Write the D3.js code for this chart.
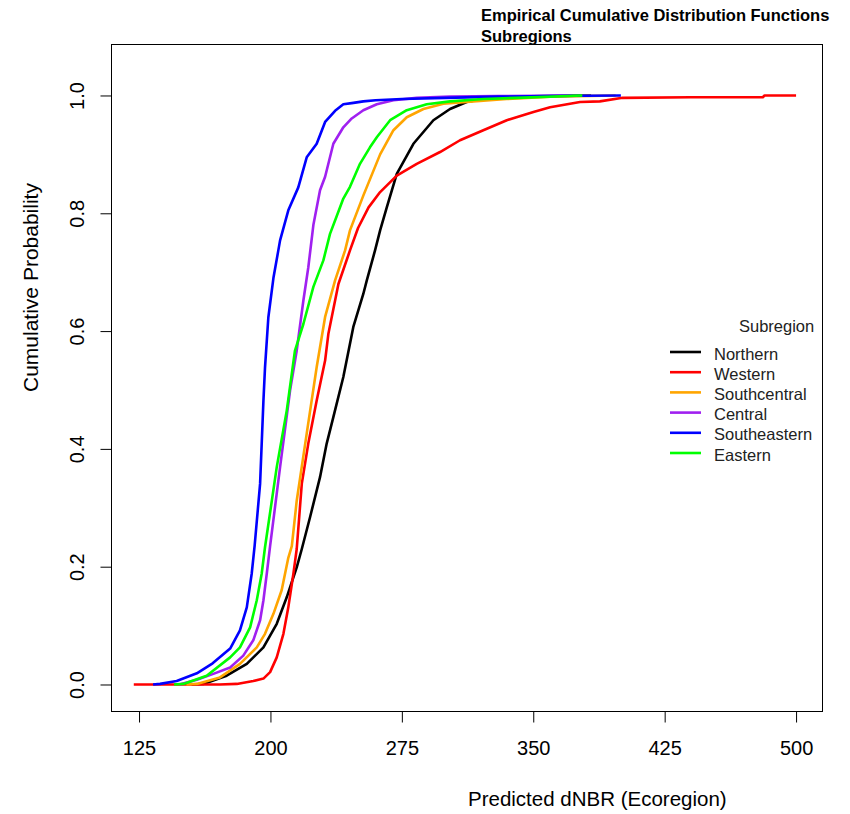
<!DOCTYPE html>
<html>
<head>
<meta charset="utf-8">
<script src="https://cdn.jsdelivr.net/npm/d3@7"></script>
<style>
  body { margin: 0; background: #fff; }
  text { font-family: "Liberation Sans", Arial, sans-serif; }
</style>
</head>
<body>
<div id="chart"></div>
<script>
// ECDF curves (x = predicted dNBR, p = cumulative probability)
var subregions = ["Northern", "Western", "Southcentral", "Central", "Southeastern", "Eastern"];
var colors = ["#000000", "#FF0000", "#FFA500", "#A020F0", "#0000FF", "#00FF00"];

var northernX = [155, 161.7, 175, 186.5, 196, 203.6, 209.3, 215, 217.9, 222.6, 228.3, 232.1, 235.9, 241.6, 247.3, 253, 255, 259.7, 262.6, 266.4, 272.1, 281.6, 293, 302.5, 312, 325.3, 340, 360, 383];
var northernP = [0, 0.001, 0.015, 0.035, 0.063, 0.103, 0.148, 0.199, 0.23, 0.284, 0.352, 0.409, 0.454, 0.522, 0.607, 0.663, 0.686, 0.737, 0.771, 0.81, 0.867, 0.918, 0.958, 0.977, 0.989, 0.996, 0.998, 0.999, 1];

var westernX = [122, 171, 180.8, 190.2, 196, 199.8, 203.6, 207.4, 210.2, 213.1, 215, 217.9, 221.6, 226.4, 231.2, 233.1, 238.8, 245.4, 250, 256, 262.6, 272.1, 283.5, 296.8, 308.2, 321.5, 334.9, 350.1, 359.6, 376.7, 388, 401, 440, 481, 482, 500];
var westernP = [0, 0, 0.001, 0.006, 0.01, 0.021, 0.046, 0.086, 0.131, 0.188, 0.23, 0.341, 0.409, 0.482, 0.55, 0.596, 0.68, 0.737, 0.775, 0.81, 0.836, 0.864, 0.884, 0.904, 0.924, 0.941, 0.958, 0.972, 0.98, 0.989, 0.99, 0.996, 0.997, 0.997, 1, 1];

var southcentralX = [152, 158, 171.2, 182.6, 192.2, 196.9, 201.7, 206.4, 210.2, 212.2, 215, 220.7, 226.4, 231.2, 236.9, 242.6, 245.4, 253, 262.6, 270.2, 277.8, 287.3, 298.7, 315.8, 334.9, 360, 397];
var southcentralP = [0, 0.001, 0.012, 0.035, 0.063, 0.086, 0.12, 0.16, 0.215, 0.235, 0.312, 0.426, 0.539, 0.624, 0.686, 0.737, 0.771, 0.83, 0.9, 0.941, 0.963, 0.977, 0.986, 0.99, 0.994, 0.998, 1];

var centralX = [148, 158, 167.4, 177, 184.5, 190.2, 194.1, 196, 197.9, 199.8, 205.5, 211.2, 215, 218.8, 221.6, 224.5, 228.3, 231.2, 235.9, 241.6, 246.4, 253, 260.7, 270.2, 283.5, 302.5, 330, 372];
var centralP = [0, 0.008, 0.018, 0.029, 0.049, 0.075, 0.109, 0.143, 0.188, 0.235, 0.369, 0.499, 0.567, 0.652, 0.708, 0.78, 0.839, 0.862, 0.918, 0.946, 0.961, 0.975, 0.985, 0.992, 0.996, 0.998, 0.999, 1];

var southeasternX = [133, 137, 146.5, 158, 167, 177, 182.6, 186.5, 189.3, 191, 194.1, 196, 196.9, 198.8, 201.7, 204.5, 205.5, 210.2, 215.9, 220.7, 226.4, 231.2, 236.9, 241.6, 246.4, 253, 260, 275, 300, 330, 360, 400];
var southeasternP = [0, 0.001, 0.006, 0.019, 0.036, 0.061, 0.092, 0.131, 0.188, 0.236, 0.341, 0.482, 0.538, 0.623, 0.69, 0.737, 0.754, 0.805, 0.844, 0.895, 0.918, 0.955, 0.974, 0.985, 0.987, 0.99, 0.992, 0.994, 0.996, 0.998, 0.999, 1];

var easternX = [145, 150.3, 163.6, 177, 182.6, 188.4, 192.2, 195, 196.9, 203.6, 209.3, 214, 218.8, 224.5, 230.2, 234, 237.8, 241.6, 245.4, 251.1, 256.8, 260.7, 268.3, 277.8, 289.2, 302.5, 321.5, 340.6, 378];
var easternP = [0, 0.001, 0.015, 0.046, 0.063, 0.097, 0.143, 0.188, 0.233, 0.369, 0.465, 0.567, 0.612, 0.675, 0.72, 0.765, 0.795, 0.825, 0.845, 0.884, 0.912, 0.929, 0.958, 0.975, 0.985, 0.99, 0.994, 0.996, 1];

var xTicks = [125, 200, 275, 350, 425, 500];
var yTicks = [0, 0.2, 0.4, 0.6, 0.8, 1.0];

var seriesX = [northernX, westernX, southcentralX, centralX, southeasternX, easternX];
var seriesP = [northernP, westernP, southcentralP, centralP, southeasternP, easternP];

var width = 850,
    height = 814;
// plot box (don't call these top/left: window.top is read only)
var boxLeft = 111, boxRight = 822, boxTop = 44, boxBottom = 711;

var svg = d3.select("#chart")
    .append("svg")
    .attr("width", width)
    .attr("height", height);

var x = d3.scaleLinear().domain([109, 514.8]).range([boxLeft, boxRight]);
var y = d3.scaleLinear().domain([-0.045, 1.0874]).range([boxBottom, boxTop]);

var line = d3.line()
    .x(function (d) { return x(d[0]); })
    .y(function (d) { return y(d[1]); });

// curves
svg.append("g")
    .selectAll("path")
    .data(subregions)
    .enter()
    .append("path")
    .attr("fill", "none")
    .attr("stroke", function (d, i) { return colors[i]; })
    .attr("stroke-width", 2.6)
    .attr("stroke-linejoin", "round")
    .attr("d", function (d, i) { return line(d3.zip(seriesX[i], seriesP[i])); });

// box
svg.append("rect")
    .attr("x", boxLeft + 0.5)
    .attr("y", boxTop + 0.5)
    .attr("width", boxRight - boxLeft)
    .attr("height", boxBottom - boxTop)
    .attr("fill", "none")
    .attr("stroke", "#000")
    .attr("stroke-width", 1);

// axes
var xAxis = svg.append("g")
    .attr("transform", "translate(0," + (boxBottom + 0.5) + ")")
    .call(d3.axisBottom(x).tickValues(xTicks).tickSize(11).tickFormat(d3.format("d")));
xAxis.select(".domain").remove();
xAxis.selectAll("text")
    .attr("dy", null)
    .attr("y", 43)
    .attr("fill", "#000")
    .style("font-size", "20px");

var yAxis = svg.append("g")
    .attr("transform", "translate(" + (boxLeft + 0.5) + ",0)")
    .call(d3.axisLeft(y).tickValues(yTicks).tickSize(11).tickFormat(d3.format(".1f")));
yAxis.select(".domain").remove();
yAxis.selectAll("text")
    .attr("x", null)
    .attr("dy", null)
    .attr("text-anchor", "middle")
    .attr("transform", "translate(-28,0) rotate(-90)")
    .attr("fill", "#000")
    .style("font-size", "20px");

// titles
svg.append("text")
    .attr("x", 468)
    .attr("y", 806)
    .style("font-size", "20.5px")
    .text("Predicted dNBR (Ecoregion)");

svg.append("text")
    .attr("transform", "translate(38,392) rotate(-90)")
    .style("font-size", "21px")
    .text("Cumulative Probability");

svg.append("text")
    .attr("x", 481)
    .attr("y", 21)
    .style("font-size", "16.5px")
    .style("font-weight", "bold")
    .text("Empirical Cumulative Distribution Functions");
svg.append("text")
    .attr("x", 481)
    .attr("y", 42)
    .style("font-size", "16.5px")
    .style("font-weight", "bold")
    .text("Subregions");

// legend
var legend = svg.append("g");
legend.append("text")
    .attr("x", 739)
    .attr("y", 332)
    .style("font-size", "16.5px")
    .attr("fill", "#222")
    .text("Subregion");

var item = legend.selectAll("g.item")
    .data(subregions)
    .enter()
    .append("g")
    .attr("class", "item")
    .attr("transform", function (d, i) { return "translate(0," + (20.2 * i) + ")"; });
item.append("line")
    .attr("x1", 670)
    .attr("x2", 701)
    .attr("y1", 352)
    .attr("y2", 352)
    .attr("stroke", function (d, i) { return colors[i]; })
    .attr("stroke-width", 2.6);
item.append("text")
    .attr("x", 714)
    .attr("y", 359.5)
    .style("font-size", "16.5px")
    .attr("fill", "#222")
    .text(function (d) { return d; });
</script>
</body>
</html>
